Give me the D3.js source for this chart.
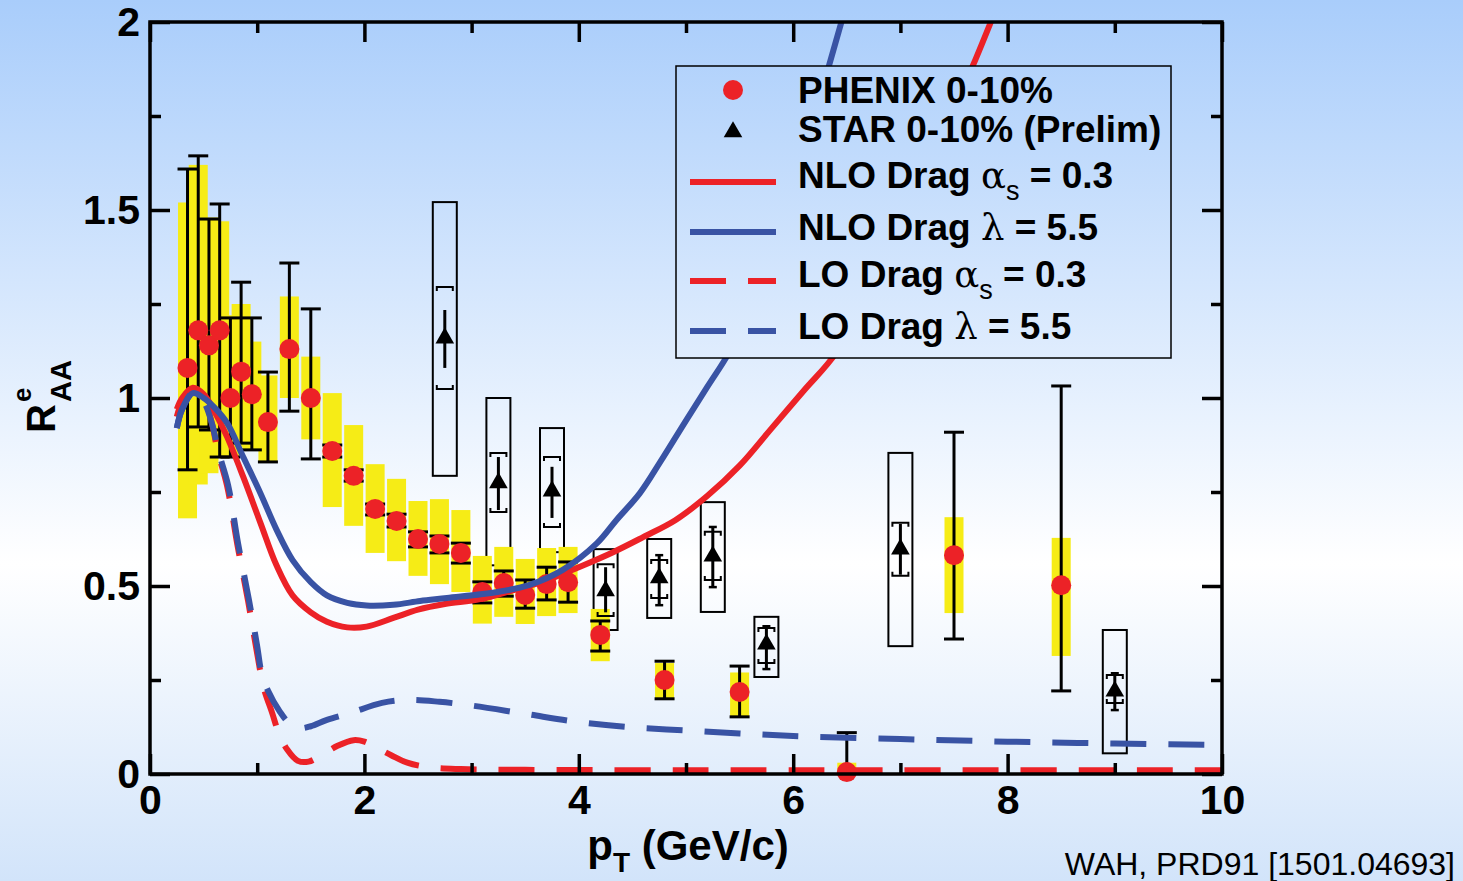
<!DOCTYPE html>
<html>
<head>
<meta charset="utf-8">
<script src="https://cdn.jsdelivr.net/npm/d3@7.9.0/dist/d3.min.js"></script>
<style>
  body { margin: 0; overflow: hidden; }
  svg { display: block; }
  text { font-family: "Liberation Sans", Arial, Helvetica, sans-serif; }
</style>
</head>
<body>
<svg id="chart" width="1463" height="881"></svg>
<script>
// PHENIX 0-10% : pT, R_AA, stat lo/hi, syst lo/hi
const phxPt   = [0.35,0.45,0.55,0.65,0.75,0.85,0.95,1.1,1.3,1.5,1.7,1.9,2.1,2.3,2.5,2.7,2.9,3.1,3.3,3.5,3.7,3.9,4.2,4.8,5.5,6.5,7.5,8.5];
const phxR    = [1.08,1.18,1.14,1.18,1.00,1.07,1.01,0.936,1.13,1.00,0.859,0.793,0.705,0.673,0.625,0.612,0.588,0.484,0.508,0.476,0.505,0.51,0.37,0.25,0.218,0.005,0.582,0.502];
const phxStLo = [0.809,0.923,0.915,0.843,0.843,0.88,0.862,0.83,0.965,0.838,0.843,0.779,0.689,0.657,0.604,0.588,0.561,0.455,0.473,0.441,0.463,0.457,0.327,0.20,0.152,0.0,0.359,0.221];
const phxStHi = [1.609,1.644,1.476,1.516,1.213,1.308,1.213,1.069,1.359,1.237,0.875,0.809,0.718,0.691,0.644,0.633,0.614,0.511,0.54,0.516,0.55,0.564,0.407,0.30,0.287,0.11,0.909,1.032];
const phxSyLo = [0.68,0.77,0.80,0.84,0.84,0.87,0.86,0.83,1.0,0.89,0.71,0.66,0.588,0.566,0.527,0.505,0.484,0.40,0.418,0.399,0.42,0.428,0.30,0.197,0.152,0.0,0.428,0.314];
const phxSyHi = [1.52,1.62,1.48,1.47,1.22,1.25,1.15,1.06,1.27,1.11,1.013,0.928,0.824,0.785,0.726,0.731,0.702,0.58,0.604,0.572,0.601,0.604,0.439,0.295,0.27,0.03,0.683,0.628];

// STAR 0-10% (Prelim): pT, R_AA, box lo/hi, bracket lo/hi, stat lo/hi
const starPt   = [2.75,3.25,3.75,4.25,4.75,5.25,5.75,7.0,9.0];
const starR    = [1.162,0.777,0.755,0.49,0.524,0.582,0.348,0.601,0.223];
const starBoxLo = [0.793,0.555,0.59,0.383,0.415,0.431,0.258,0.34,0.055];
const starBoxHi = [1.521,1.0,0.92,0.598,0.625,0.723,0.418,0.854,0.383];
const starBrLo = [1.024,0.697,0.657,0.42,0.468,0.516,0.295,0.527,0.189];
const starBrHi = [1.295,0.854,0.843,0.558,0.569,0.644,0.388,0.668,0.263];
const starStLo = [1.08,0.702,0.681,0.43,0.449,0.497,0.279,0.53,0.17];
const starStHi = [1.234,0.843,0.817,0.55,0.582,0.657,0.393,0.665,0.268];

// model curves
const nloAsPt = [0.25,0.3,0.4,0.5,0.6,0.72,0.87,1.03,1.18,1.33,1.5,1.65,1.84,2.02,2.27,2.5,2.75,3.08,3.4,3.7,4.0,4.32,4.6,4.9,5.2,5.5,5.8,6.1,6.4,6.8,7.2,7.5,7.7,7.9];
const nloAsR  = [0.97,1.0,1.027,1.01,0.965,0.896,0.79,0.668,0.555,0.475,0.43,0.405,0.39,0.392,0.415,0.437,0.452,0.465,0.49,0.515,0.55,0.59,0.63,0.675,0.74,0.82,0.92,1.02,1.12,1.33,1.58,1.77,1.9,2.04];
const nloLamPt = [0.25,0.3,0.4,0.5,0.6,0.72,0.87,1.03,1.18,1.33,1.5,1.65,1.84,2.02,2.27,2.52,2.77,3.24,3.54,3.85,4.17,4.35,4.57,4.76,5.0,5.2,5.4,5.6,5.85,6.1,6.32,6.5];
const nloLamR  = [0.92,0.97,1.013,1.0,0.975,0.933,0.843,0.747,0.65,0.569,0.51,0.475,0.455,0.448,0.45,0.46,0.468,0.484,0.503,0.543,0.614,0.675,0.747,0.83,0.94,1.03,1.12,1.24,1.43,1.65,1.87,2.05];
const loAsPt = [0.25,0.3,0.4,0.5,0.58,0.63,0.72,0.815,0.915,1.0,1.06,1.14,1.2,1.28,1.38,1.48,1.6,1.75,1.9,2.0,2.1,2.25,2.4,2.6,2.9,3.5,5,7,10];
const loAsR  = [0.95,0.99,1.025,1.0,0.93,0.86,0.765,0.61,0.46,0.32,0.23,0.162,0.11,0.065,0.035,0.033,0.05,0.075,0.09,0.086,0.072,0.05,0.03,0.018,0.013,0.011,0.01,0.01,0.01];
const loLamPt = [0.25,0.3,0.4,0.5,0.58,0.634,0.728,0.821,0.923,1.0,1.04,1.1,1.213,1.3,1.4,1.5,1.651,1.866,2.164,2.4,2.7,3.0,3.5,4.0,4.5,5.0,5.5,6.0,7.0,8.0,9.0,10.0];
const loLamR  = [0.92,0.97,1.013,0.99,0.93,0.862,0.769,0.614,0.463,0.34,0.27,0.222,0.165,0.135,0.122,0.127,0.144,0.162,0.189,0.197,0.192,0.182,0.16,0.138,0.124,0.116,0.108,0.101,0.093,0.086,0.081,0.077];

const xMajor = [0,2,4,6,8,10];
const xMinor = [1,3,5,7,9];
const yMajor = [0,0.5,1,1.5,2];
const yMinor = [0.25,0.75,1.25,1.75];

const legendRows = [
  {pre: 'PHENIX 0-10%'},
  {pre: 'STAR 0-10% (Prelim)'},
  {pre: 'NLO Drag ', greek: 'α', sub: 's', post: ' = 0.3'},
  {pre: 'NLO Drag ', greek: 'λ', post: ' = 5.5'},
  {pre: 'LO Drag ', greek: 'α', sub: 's', post: ' = 0.3'},
  {pre: 'LO Drag ', greek: 'λ', post: ' = 5.5'}
];

const RED = '#ec2227', BLUE = '#3953a4', YELLOW = '#f6ec16';

const svg = d3.select('#chart');
const x = d3.scaleLinear().domain([0, 10]).range([150, 1222]);
const y = d3.scaleLinear().domain([0, 2]).range([774, 22]);

const defs = svg.append('defs');
const grad = defs.append('linearGradient').attr('id', 'bg')
  .attr('gradientUnits', 'userSpaceOnUse').attr('x1', 0).attr('y1', 0).attr('x2', 0).attr('y2', 881);
grad.append('stop').attr('offset', 0).attr('stop-color', '#a9cdfb');
grad.append('stop').attr('offset', 0.64).attr('stop-color', '#ffffff');
grad.append('stop').attr('offset', 1).attr('stop-color', '#d2e4fa');
defs.append('clipPath').attr('id', 'plot').append('rect')
  .attr('x', x(0)).attr('y', y(2)).attr('width', x(10) - x(0)).attr('height', y(0) - y(2));

svg.append('rect').attr('width', 1463).attr('height', 881).attr('fill', 'url(#bg)');

// STAR open systematic boxes
const starIdx = d3.range(starPt.length);
const phxIdx = d3.range(phxPt.length);
svg.append('g').selectAll('rect').data(starIdx).join('rect')
  .attr('x', i => x(starPt[i]) - 12).attr('width', 24)
  .attr('y', i => y(starBoxHi[i])).attr('height', i => y(starBoxLo[i]) - y(starBoxHi[i]))
  .attr('fill', 'none').attr('stroke', '#000').attr('stroke-width', 2);

// PHENIX yellow systematic boxes
svg.append('g').selectAll('rect').data(phxIdx).join('rect')
  .attr('x', i => x(phxPt[i]) - 9.5).attr('width', 19)
  .attr('y', i => y(phxSyHi[i])).attr('height', i => y(phxSyLo[i]) - y(phxSyHi[i]))
  .attr('fill', YELLOW);

// PHENIX stat bars
const eb = svg.append('g').attr('stroke', '#000').attr('stroke-width', 3);
phxIdx.forEach(i => {
  const cx = x(phxPt[i]);
  eb.append('line').attr('x1', cx).attr('x2', cx).attr('y1', y(phxStHi[i])).attr('y2', y(phxStLo[i]));
  eb.append('line').attr('x1', cx - 10).attr('x2', cx + 10).attr('y1', y(phxStHi[i])).attr('y2', y(phxStHi[i]));
  if (phxStLo[i] > 0) eb.append('line').attr('x1', cx - 10).attr('x2', cx + 10).attr('y1', y(phxStLo[i])).attr('y2', y(phxStLo[i]));
});
svg.append('g').selectAll('circle').data(phxIdx).join('circle')
  .attr('cx', i => x(phxPt[i])).attr('cy', i => y(phxR[i])).attr('r', 10).attr('fill', RED);

// STAR brackets, stat lines and triangles
const sb = svg.append('g').attr('stroke', '#000').attr('fill', 'none');
starIdx.forEach(i => {
  const cx = x(starPt[i]);
  const yt = y(starBrHi[i]), yb = y(starBrLo[i]);
  sb.append('path').attr('stroke-width', 2)
    .attr('d', `M${cx - 8},${yt + 4}V${yt}H${cx + 8}V${yt + 4}M${cx - 8},${yb - 4}V${yb}H${cx + 8}V${yb - 4}`);
  sb.append('line').attr('stroke-width', 3).attr('x1', cx).attr('x2', cx)
    .attr('y1', y(starStHi[i])).attr('y2', y(starStLo[i]));
  if (starStHi[i] > starBrHi[i]) sb.append('line').attr('stroke-width', 2.5)
    .attr('x1', cx - 4).attr('x2', cx + 4).attr('y1', y(starStHi[i])).attr('y2', y(starStHi[i]));
  if (starStLo[i] < starBrLo[i]) sb.append('line').attr('stroke-width', 2.5)
    .attr('x1', cx - 4).attr('x2', cx + 4).attr('y1', y(starStLo[i])).attr('y2', y(starStLo[i]));
});
const tri = d3.symbol().type(d3.symbolTriangle).size(150);
svg.append('g').selectAll('path').data(starIdx).join('path')
  .attr('d', tri).attr('transform', i => `translate(${x(starPt[i])},${y(starR[i]) + 1})`).attr('fill', '#000');

// model curves
const line = d3.line().x(d => x(d[0])).y(d => y(d[1])).curve(d3.curveCatmullRom.alpha(0.5));
const curves = svg.append('g').attr('clip-path', 'url(#plot)').attr('fill', 'none').attr('stroke-width', 6);
const zip = (a, b) => a.map((v, i) => [v, b[i]]);
curves.append('path').attr('d', line(zip(nloAsPt, nloAsR))).attr('stroke', RED);
curves.append('path').attr('d', line(zip(loAsPt, loAsR))).attr('stroke', RED).attr('stroke-dasharray', '36,22');
curves.append('path').attr('d', line(zip(nloLamPt, nloLamR))).attr('stroke', BLUE);
curves.append('path').attr('d', line(zip(loLamPt, loLamR))).attr('stroke', BLUE).attr('stroke-dasharray', '36,22');

// axes, ticks inward on all four sides
function styleAxis(g) {
  g.select('.domain').remove();
  g.selectAll('.tick line').attr('stroke', '#000').attr('stroke-width', 3.5);
  g.selectAll('.tick text').attr('fill', '#000').attr('font-size', 41).attr('font-weight', 'bold')
    .attr('font-family', '"Liberation Sans", Arial, sans-serif');
}
svg.append('g').attr('transform', `translate(0,${y(0)})`)
  .call(d3.axisBottom(x).tickValues(xMajor).tickSize(-20).tickPadding(11).tickFormat(d => d)).call(styleAxis);
svg.append('g').attr('transform', `translate(0,${y(0)})`)
  .call(d3.axisBottom(x).tickValues(xMinor).tickSize(-11).tickFormat('')).call(styleAxis);
svg.append('g').attr('transform', `translate(0,${y(2)})`)
  .call(d3.axisTop(x).tickValues(xMajor).tickSize(-20).tickFormat('')).call(styleAxis);
svg.append('g').attr('transform', `translate(0,${y(2)})`)
  .call(d3.axisTop(x).tickValues(xMinor).tickSize(-11).tickFormat('')).call(styleAxis);
svg.append('g').attr('transform', `translate(${x(0)},0)`)
  .call(d3.axisLeft(y).tickValues(yMajor).tickSize(-20).tickPadding(10).tickFormat(d => String(d))).call(styleAxis);
svg.append('g').attr('transform', `translate(${x(0)},0)`)
  .call(d3.axisLeft(y).tickValues(yMinor).tickSize(-11).tickFormat('')).call(styleAxis);
svg.append('g').attr('transform', `translate(${x(10)},0)`)
  .call(d3.axisRight(y).tickValues(yMajor).tickSize(-20).tickFormat('')).call(styleAxis);
svg.append('g').attr('transform', `translate(${x(10)},0)`)
  .call(d3.axisRight(y).tickValues(yMinor).tickSize(-11).tickFormat('')).call(styleAxis);
svg.append('rect').attr('x', x(0)).attr('y', y(2)).attr('width', x(10) - x(0)).attr('height', y(0) - y(2))
  .attr('fill', 'none').attr('stroke', '#000').attr('stroke-width', 3.5);

// legend
const lg = svg.append('g');
lg.append('rect').attr('x', 676).attr('y', 66).attr('width', 495).attr('height', 292)
  .attr('fill', 'url(#bg)').attr('stroke', '#000').attr('stroke-width', 1.5);
const rowBase = [103, 142, 188, 240, 287, 339];
const rowSym = [90, 131, 182, 232, 281, 331];
lg.append('circle').attr('cx', 733).attr('cy', rowSym[0]).attr('r', 10).attr('fill', RED);
lg.append('path').attr('d', d3.symbol().type(d3.symbolTriangle).size(150)).attr('transform', `translate(733,${rowSym[1] + 1})`);
[[RED, null], [BLUE, null], [RED, '36,22'], [BLUE, '36,22']].forEach(([c, dash], k) => {
  lg.append('line').attr('x1', 690).attr('x2', 776).attr('y1', rowSym[k + 2]).attr('y2', rowSym[k + 2])
    .attr('stroke', c).attr('stroke-width', 6).attr('stroke-dasharray', dash);
});
legendRows.forEach((r, k) => {
  const t = lg.append('text').attr('x', 798).attr('y', rowBase[k]).attr('font-size', 37).attr('font-weight', 'bold');
  t.append('tspan').text(r.pre);
  if (r.greek) {
    t.append('tspan').attr('font-family', '"DejaVu Serif", "Liberation Serif", serif').attr('font-weight', 'normal').text(r.greek);
    if (r.sub) t.append('tspan').attr('font-size', 27).attr('font-weight', 'normal').attr('dy', 12).text(r.sub);
    t.append('tspan').attr('dy', r.sub ? -12 : 0).text(r.post);
  }
});

// axis titles
const yt = svg.append('g').attr('transform', 'translate(55,433) rotate(-90)');
yt.append('text').attr('x', 0).attr('y', 0).attr('font-size', 40).attr('font-weight', 'bold').text('R');
yt.append('text').attr('x', 31).attr('y', -24).attr('font-size', 26).attr('font-weight', 'bold').text('e');
yt.append('text').attr('x', 31).attr('y', 16).attr('font-size', 29).attr('font-weight', 'bold').text('AA');

const xt = svg.append('text').attr('x', 688).attr('y', 860).attr('text-anchor', 'middle')
  .attr('font-size', 42).attr('font-weight', 'bold');
xt.append('tspan').text('p');
xt.append('tspan').attr('font-size', 28).attr('dy', 12).text('T');
xt.append('tspan').attr('dy', -12).text(' (GeV/c)');

svg.append('text').attr('x', 1455).attr('y', 875).attr('text-anchor', 'end').attr('font-size', 32)
  .text('WAH, PRD91 [1501.04693]');
</script>
</body>
</html>
